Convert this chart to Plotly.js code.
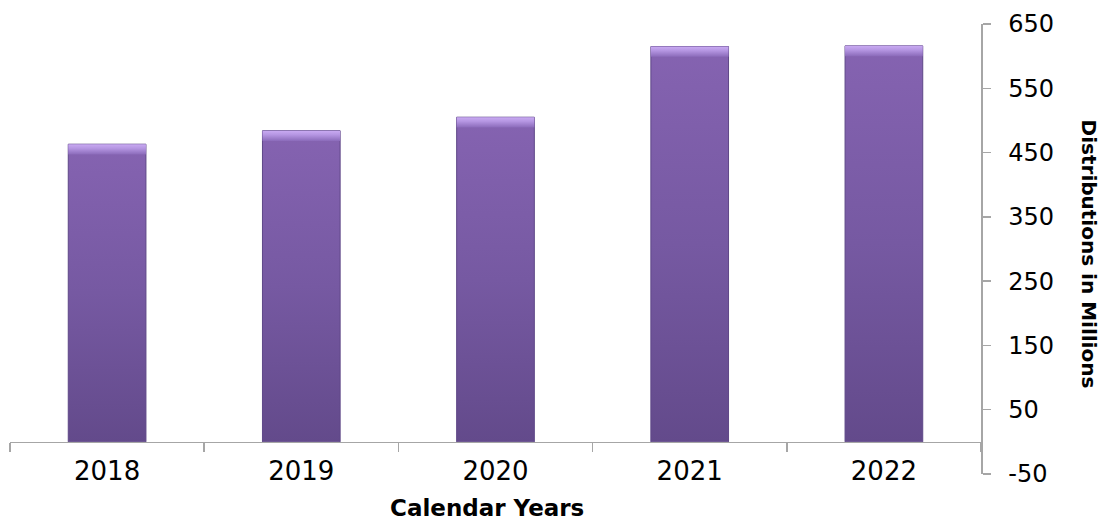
<!DOCTYPE html>
<html>
<head>
<meta charset="utf-8">
<script src="https://cdn.plot.ly/plotly-3.0.1.min.js"></script>
<style>html,body{margin:0;padding:0;background:#fff;}#chart{width:1104px;height:520px;}</style>
</head>
<body>
<div id="chart"></div>
<script>
var categories = ["2018", "2019", "2020", "2021", "2022"];
var distributions = [463, 484, 505, 615, 616];
var yTickVals = [-50, 50, 150, 250, 350, 450, 550, 650];
var yTickText = ["-50", "50", "150", "250", "350", "450", "550", "650"];

var bevelDepth = 16;
var bevelBase = distributions.map(function (v) { return v - bevelDepth; });
var bevelHeight = distributions.map(function () { return bevelDepth; });

var axisGray = "#A6A6A6";
var fontFam = "DejaVu Sans, Verdana, sans-serif";

var traces = [
  {
    type: "bar",
    x: categories,
    y: distributions,
    marker: { color: "#7558A0", line: { color: "#5E4787", width: 1 } },
    hoverinfo: "x+y"
  },
  {
    type: "bar",
    x: categories,
    y: bevelHeight,
    base: bevelBase,
    marker: { color: "#A889D4", line: { width: 0 } },
    hoverinfo: "skip"
  }
];

var layout = {
  width: 1104,
  height: 520,
  margin: { l: 10, r: 123, t: 24, b: 46 },
  paper_bgcolor: "#ffffff",
  plot_bgcolor: "#ffffff",
  showlegend: false,
  barmode: "overlay",
  bargap: 0.6,
  font: { family: fontFam, color: "#000000" },
  xaxis: {
    type: "category",
    anchor: "free",
    position: 50 / 700,
    range: [-0.5, 4.5],
    automargin: false,
    showline: true,
    linecolor: axisGray,
    linewidth: 1.5,
    ticks: "outside",
    tickson: "boundaries",
    ticklen: 9,
    tickwidth: 1.5,
    tickcolor: axisGray,
    showgrid: false,
    zeroline: false,
    ticklabelstandoff: 5,
    tickfont: { family: fontFam, size: 26, color: "#000" }
  },
  yaxis: {
    side: "right",
    range: [-50, 650],
    automargin: false,
    tickvals: yTickVals,
    ticktext: yTickText,
    showline: true,
    linecolor: axisGray,
    linewidth: 1.5,
    ticks: "outside",
    ticklen: 8,
    tickwidth: 1.5,
    tickcolor: axisGray,
    showgrid: false,
    zeroline: false,
    ticklabelstandoff: 13,
    tickfont: { family: fontFam, size: 24, color: "#000" }
  },
  annotations: [
    {
      text: "<b>Distributions in Millions</b>",
      xref: "paper", yref: "paper",
      x: 1.111, y: 0.488,
      xanchor: "center", yanchor: "middle",
      textangle: 90,
      showarrow: false,
      font: { family: fontFam, size: 20, color: "#000" }
    },
    {
      text: "<b>Calendar Years</b>",
      xref: "paper", yref: "paper",
      x: 0.4913, y: -0.075,
      xanchor: "center", yanchor: "middle",
      showarrow: false,
      font: { family: fontFam, size: 23, color: "#000" }
    }
  ]
};

function addGradients(gd) {
  var svg = gd.querySelector("svg.main-svg");
  if (!svg) return;
  var ns = "http://www.w3.org/2000/svg";
  var defs = svg.querySelector("defs");
  if (!defs) { defs = document.createElementNS(ns, "defs"); svg.insertBefore(defs, svg.firstChild); }
  function grad(id, stops) {
    if (svg.querySelector("#" + id)) return;
    var g = document.createElementNS(ns, "linearGradient");
    g.setAttribute("id", id);
    g.setAttribute("x1", "0"); g.setAttribute("y1", "0");
    g.setAttribute("x2", "0"); g.setAttribute("y2", "1");
    stops.forEach(function (s) {
      var st = document.createElementNS(ns, "stop");
      st.setAttribute("offset", s[0]);
      st.setAttribute("stop-color", s[1]);
      g.appendChild(st);
    });
    defs.appendChild(g);
  }
  grad("barGrad", [["0", "#8563B1"], ["0.5", "#7659A2"], ["1", "#634A8B"]]);
  grad("bevelGrad", [["0", "#C9AAF2"], ["0.4", "#B596E2"], ["1", "#8B6BBA"]]);
  var tr = gd.querySelectorAll(".barlayer .trace");
  if (tr[0]) tr[0].querySelectorAll("path").forEach(function (p) { p.style.fill = "url(#barGrad)"; });
  if (tr[1]) tr[1].querySelectorAll("path").forEach(function (p) { p.style.fill = "url(#bevelGrad)"; });
}

Plotly.newPlot("chart", traces, layout, { displayModeBar: false, staticPlot: true }).then(function (gd) {
  addGradients(gd);
  gd.on("plotly_afterplot", function () { addGradients(gd); });
});
</script>
</body>
</html>
